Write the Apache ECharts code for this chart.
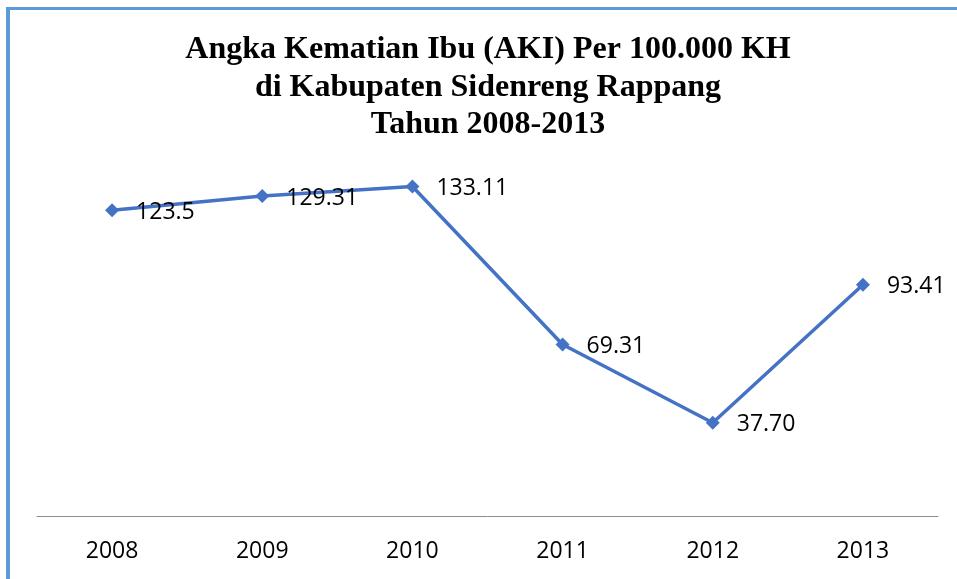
<!DOCTYPE html>
<html>
<head>
<meta charset="utf-8">
<script src="https://cdn.jsdelivr.net/npm/echarts@6/dist/echarts.min.js"></script>
<style>
  html, body { margin: 0; padding: 0; background: #fff; }
  #main { width: 957px; height: 579px; }
</style>
</head>
<body>
<div id="main"></div>
<script>
  var years = ['2008', '2009', '2010', '2011', '2012', '2013'];
  var aki = [123.5, 129.31, 133.11, 69.31, 37.70, 93.41];
  var akiLabels = ['123.5', '129.31', '133.11', '69.31', '37.70', '93.41'];

  var chart = echarts.init(document.getElementById('main'));
  chart.setOption({
    animation: false,
    title: {
      text: 'Angka Kematian Ibu (AKI) Per 100.000 KH\ndi Kabupaten Sidenreng Rappang\nTahun 2008-2013',
      left: 488,
      top: 31,
      textAlign: 'center',
      padding: 0,
      textStyle: {
        fontFamily: 'Liberation Serif',
        fontWeight: 'bold',
        fontSize: 32,
        lineHeight: 37.5,
        color: '#000'
      }
    },
    graphic: [
      { type: 'rect', shape: { x: 6, y: 7, width: 951, height: 3 }, style: { fill: '#5b9bd5' } },
      { type: 'rect', shape: { x: 6, y: 7, width: 4, height: 572 }, style: { fill: '#5b9bd5' } }
    ],
    grid: {
      left: 37,
      right: 19,
      top: 120,
      bottom: 63,
      containLabel: false
    },
    xAxis: {
      type: 'category',
      data: years,
      boundaryGap: true,
      axisTick: { show: false },
      axisLine: { lineStyle: { color: '#8c8c8c', width: 1 } },
      axisLabel: {
        margin: 24,
        color: '#000',
        fontFamily: 'Open Sans',
        fontSize: 23
      }
    },
    yAxis: {
      type: 'value',
      min: 0,
      max: 160,
      show: false,
      splitLine: { show: false }
    },
    series: [{
      type: 'line',
      data: aki,
      symbol: 'diamond',
      symbolSize: 14,
      lineStyle: { color: '#4472c4', width: 3.5 },
      itemStyle: { color: '#4472c4' },
      label: {
        show: true,
        position: 'right',
        distance: 17,
        offset: [0, 2],
        color: '#000',
        fontFamily: 'Open Sans',
        fontSize: 23,
        formatter: function (p) { return akiLabels[p.dataIndex]; }
      }
    }]
  });
</script>
</body>
</html>
